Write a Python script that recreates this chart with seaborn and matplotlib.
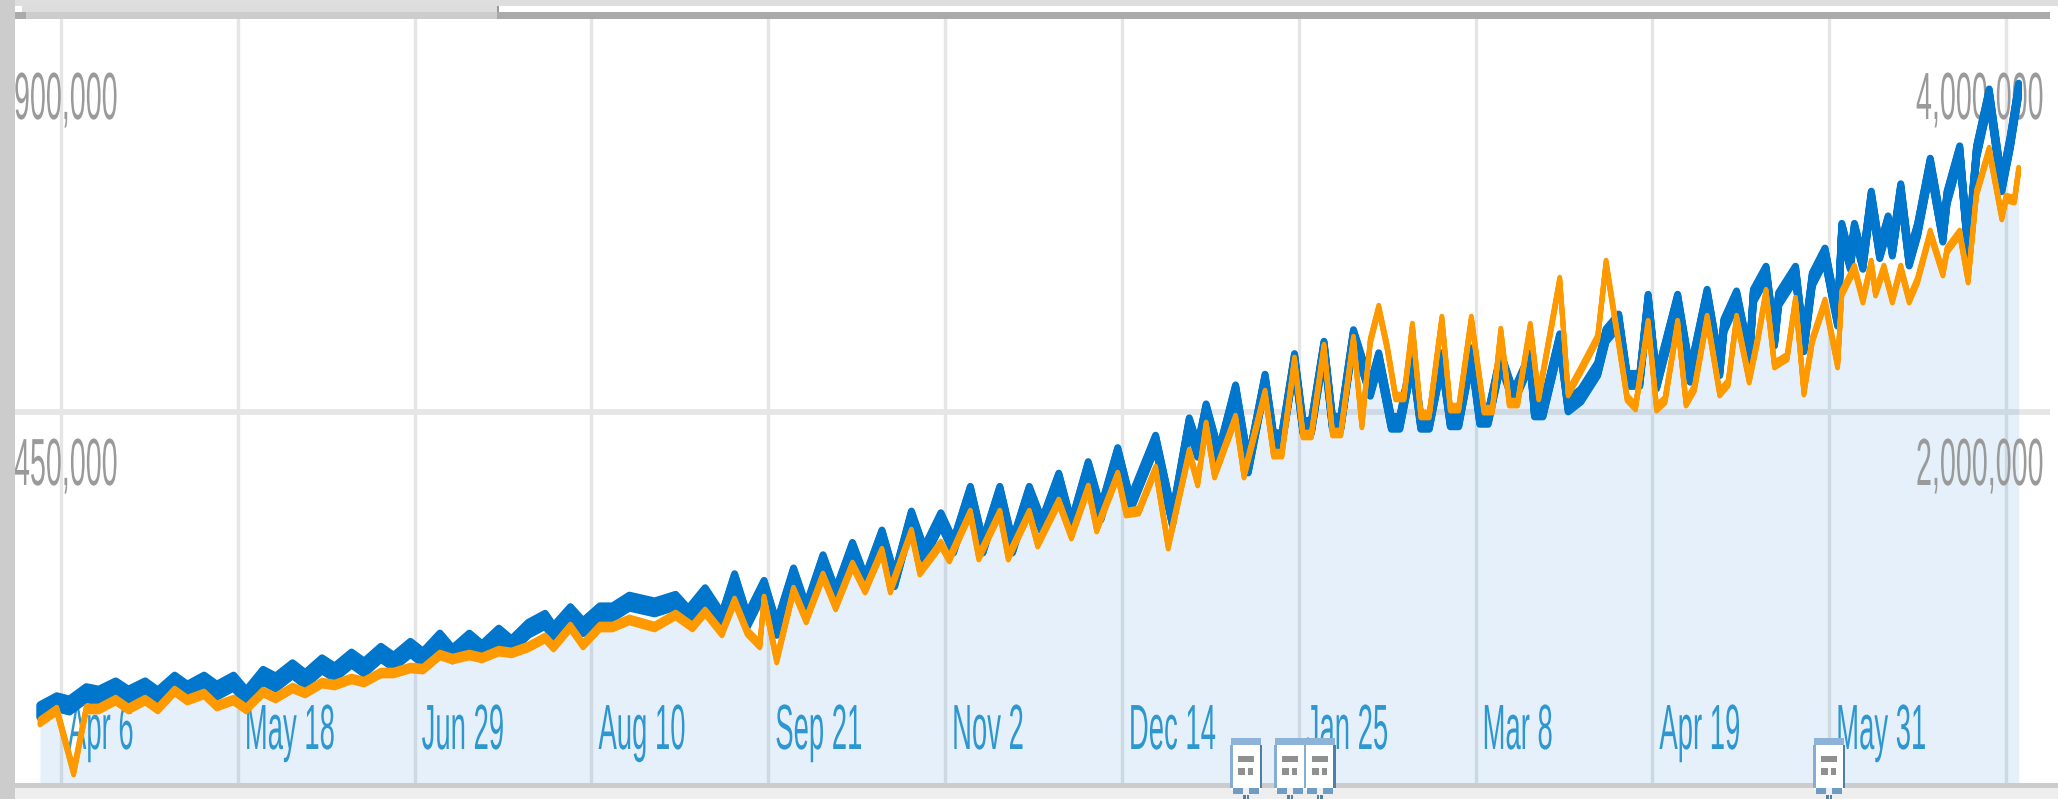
import numpy as np
import pandas as pd
import seaborn as sns
import matplotlib
matplotlib.use("Agg")
import matplotlib.pyplot as plt
from matplotlib.patches import Rectangle
from matplotlib.patheffects import AbstractPathEffect
from matplotlib.transforms import IdentityTransform, Affine2D, Bbox

# ---------- data (days counted from 2014-04-06, values in thousands) ----------
start_date = "2014-04-06"
blue_days = [-5,-1,2,6,9,13,16,20,23,27,30,34,37,41,44,48,51,55,58,62,65,69,72,76,79,83,86,90,93,97,100,104,107,111,
    115,117,121,124,128,131,135,141,146,149,153,157,160,163,167,170,174,177,181,184,188,191,195,198,202,205,209,212,
    216,219,223,226,230,233,237,240,244,247,251,254,260,264,268,270,272,275,279,282,286,
    288,290,293,295,297,300,302,304,307,311,313,316,318,321,323,325,328,330,332,335,337,339,342,345,349,350,352,
    356,358,361,365,367,370,372,375,377,379,384,387,391,394,395,398,
    401,402,405,407,408,412,414,416,419,422,423,425,426,428,430,432,434,435,437,439,441,444,447,448,451,453,455,458,
    461,463,465]
blue_k = [90,101,97,112,109,119,109,119,108,126,115,126,115,126,108,133,125,141,129,147,137,154,143,161,150,167,155,177,159,177,164,183,170,190,
    201,186,209,192,210,210,223,216,224,207,232,201,249,200,241,190,256,211,272,230,287,246,302,249,325,281,323,290,
    355,290,355,290,355,315,371,313,385,330,402,341,417,323,438,406,455,399,478,387,491,
    420,420,516,435,435,531,440,440,545,480,517,440,440,517,440,440,517,443,443,523,446,446,517,471,517,455,455,
    540,461,473,505,546,564,492,492,588,489,588,497,594,505,558,592,
    517,594,622,541,590,622,534,614,644,565,674,634,674,634,713,647,683,650,722,638,674,753,667,713,768,650,768,837,
    728,780,844]
orange_days = [-5,-1,3,6,9,13,16,20,23,27,30,34,37,41,44,48,51,55,58,62,65,69,72,76,79,83,86,90,93,97,100,104,107,111,
    115,117,121,124,128,131,135,141,146,150,153,157,160,163,166,167,170,174,177,181,184,188,191,195,197,202,204,209,211,
    216,218,223,225,230,232,237,240,244,246,251,253,256,260,263,268,270,272,274,279,281,286,
    288,290,293,295,297,300,302,304,307,309,311,313,315,317,319,321,323,325,328,330,332,335,338,340,342,344,346,349,351,
    356,358,361,365,367,370,372,374,377,379,381,384,386,388,
    391,394,396,398,401,403,405,407,410,412,414,416,419,422,423,426,428,430,431,433,435,437,439,441,444,447,448,451,
    453,455,458,461,462,464,465]
orange_k = [329,393,59,399,399,447,399,447,399,496,447,480,415,447,399,490,458,512,485,539,528,561,544,593,593,620,614,690,668,690,674,711,701,733,
    782,733,841,744,841,841,879,841,906,841,922,809,981,814,744,992,663,1040,879,1116,949,1175,1040,1250,1040,1353,1137,1288,1207,
    1455,1218,1455,1218,1455,1288,1515,1331,1590,1369,1660,1455,1466,1692,1277,1784,1617,1930,1660,1967,1660,2102,
    1773,1773,2280,1876,1876,2350,1887,1887,2393,1930,2382,2560,2350,2081,2081,2463,1984,1984,2501,2021,2021,2501,2010,2010,2436,2048,2048,2463,2081,
    2711,2102,2226,2399,2803,2372,2075,2027,2479,2021,2064,2479,2048,2129,
    2506,2102,2156,2506,2172,2388,2646,2253,2296,2603,2107,2388,2593,2253,2641,2776,2603,2803,2641,2776,2603,2776,2603,2711,2965,2749,2873,2965,
    2711,3180,3412,3051,3153,3142,3304]
grid_dates = ["2014-04-06","2014-05-18","2014-06-29","2014-08-10","2014-09-21","2014-11-02","2014-12-14",
              "2015-01-25","2015-03-08","2015-04-19","2015-05-31","2015-07-12"]
x_labels = ["Apr 6","May 18","Jun 29","Aug 10","Sep 21","Nov 2","Dec 14","Jan 25","Mar 8","Apr 19","May 31",""]
left_ticks = [450000, 900000]
left_labels = ["450,000", "900,000"]
right_ticks = [2000000, 4000000]
right_labels = ["2,000,000", "4,000,000"]
annotation_days = [281.5, 292, 299, 420]

# ---------- layout constants ----------
W, H = 2058, 799
AX_L, AX_R, AX_T, AX_B = 15, 2050, 19, 783
PX_DAY0, PX_PER_DAY = 61.0, 4.21
BLUE, ORANGE = "#0076cc", "#ff9900"
SQUEEZE = 0.43

sns.set_theme(style="white")
plt.rcParams["font.family"] = ["Liberation Sans", "DejaVu Sans"]


class Squeeze(AbstractPathEffect):
    """Condense glyphs horizontally around the text origin (the reference is stretched)."""
    def __init__(self, sx):
        super().__init__()
        self.sx = sx

    def draw_path(self, renderer, gc, tpath, affine, rgbFace=None):
        m = affine.get_matrix().copy()
        m[0, 0] *= self.sx
        m[0, 1] *= self.sx
        renderer.draw_path(gc, tpath, Affine2D(m), rgbFace)


class TallStroke(AbstractPathEffect):
    """Make a stroke taller than wide: the reference image is stretched vertically."""
    def __init__(self, up_px, down_px):
        super().__init__()
        self.up_px, self.down_px = up_px, down_px

    def draw_path(self, renderer, gc, tpath, affine, rgbFace=None):
        for dy in np.arange(-self.down_px, self.up_px + 0.01, 1.0):
            renderer.draw_path(gc, tpath, affine + Affine2D().translate(0, dy), rgbFace)


def condensed(t):
    """Apply the squeeze and report the extent that is really painted."""
    t.set_path_effects([Squeeze(SQUEEZE)])
    orig = t.get_window_extent

    def extent(renderer=None, dpi=None):
        bb = orig(renderer, dpi)
        return Bbox.from_extents(bb.x0, bb.y0, bb.x0 + bb.width * SQUEEZE, bb.y1)

    t.get_window_extent = extent
    return t


fig = plt.figure(figsize=(W / 100, H / 100), dpi=100, facecolor="white")
ax = fig.add_axes([AX_L / W, 1 - AX_B / H, (AX_R - AX_L) / W, (AX_B - AX_T) / H])
ax2 = ax.twinx()

base = pd.Timestamp(start_date)
blue_df = pd.DataFrame({"date": base + pd.to_timedelta(blue_days, unit="D"), "v": np.array(blue_k) * 1000})
orange_df = pd.DataFrame({"date": base + pd.to_timedelta(orange_days, unit="D"), "v": np.array(orange_k) * 1000})

sns.lineplot(data=blue_df, x="date", y="v", ax=ax, color=BLUE, linewidth=5.0, estimator=None, zorder=3, legend=False,
             path_effects=[TallStroke(4, 9)])
sns.lineplot(data=orange_df, x="date", y="v", ax=ax2, color=ORANGE, linewidth=3.4, estimator=None, zorder=3, legend=False,
             path_effects=[TallStroke(3, 3)])

# limits
h_total = AX_B - AX_T
left_top = 450000 / 371 * h_total
right_top = 2000000 / 371 * h_total
ax.set_ylim(0, left_top)
ax2.set_ylim(0, right_top)
d0 = (AX_L - PX_DAY0) / PX_PER_DAY
d1 = (AX_R - PX_DAY0) / PX_PER_DAY
ax.set_xlim(base + pd.Timedelta(days=d0), base + pd.Timedelta(days=d1))

# area: under the lower of the two series (same pixel scale)
grid_days = np.arange(blue_days[0], blue_days[-1] + 1)
lower = np.minimum(np.interp(grid_days, blue_days, blue_k) * 1000,
                   np.interp(grid_days, orange_days, orange_k) * 1000 * (left_top / right_top))
ax.fill_between(base + pd.to_timedelta(grid_days, unit="D"), 0, lower, color=(0, 113 / 255, 206 / 255, 0.1),
                linewidth=0, zorder=1)

# grid
gd = pd.to_datetime(grid_dates)
ax.set_xticks(gd)
ax.set_yticks([left_ticks[0]])
ax.grid(False)
ax.set_axisbelow(True)
for d in gd:
    ax.axvline(d, color="#e5e5e5", linewidth=2.4, zorder=0.5)
ax.axhline(left_ticks[0], color="#e6e6e6", linewidth=4.2, zorder=0.5)

# axis furniture off; labels as inner text
for a in (ax, ax2):
    a.set_xlabel("")
    a.set_ylabel("")
    a.tick_params(length=0, labelbottom=False, labelleft=False, labelright=False)
    for s in a.spines.values():
        s.set_visible(False)

font = "Liberation Sans"
for d, lab in zip(gd, x_labels):
    if lab:
        condensed(ax.annotate(lab, xy=(d, 0), xycoords="data", xytext=(7 * 0.72, (AX_B - 749) * 0.72),
                              textcoords="offset points", ha="left", va="baseline", fontsize=46, color="#2f97cf",
                              family=font, zorder=1.5, annotation_clip=False))
for val, lab, y0 in zip(left_ticks, left_labels, [485, 119]):
    condensed(ax.text((14 - AX_L) / (AX_R - AX_L), 1 - (y0 - AX_T) / h_total, lab, transform=ax.transAxes, ha="left",
                      va="baseline", fontsize=48, color="#9a9a9a", family=font, zorder=1.5, clip_on=False))
for val, lab, y0 in zip(right_ticks, right_labels, [485, 119]):
    condensed(ax.text((1916 - AX_L) / (AX_R - AX_L), 1 - (y0 - AX_T) / h_total, lab, transform=ax.transAxes, ha="left",
                      va="baseline", fontsize=48, color="#9a9a9a", family=font, zorder=1.5, clip_on=False))


# ---------- page chrome, in image pixels ----------
def box(x0, y0, x1, y1, color, z=10):
    r = Rectangle((x0, H - y1), x1 - x0, y1 - y0, facecolor=color, edgecolor="none",
                  transform=IdentityTransform(), zorder=z)
    fig.add_artist(r)


box(0, 0, W, 6, "#dedede")
box(15, 6, 22, 12, "#ffffff")
box(22, 6, 497, 12, "#dddddd")
box(15, 12, 26, 19, "#aaaaaa")
box(26, 12, 497, 19, "#cccccc")
box(497, 6, 499, 12, "#999999")
box(497, 12, 2050, 19, "#aaaaaa")
box(2050, 6, W, 19, "#ffffff")
box(15, 783, W, 788, "#cccccc", z=4)
box(15, 788, W, H, "#eeeeee", z=4)
box(0, 0, 15, H, "#cccccc", z=11)

# annotation flags
for d in annotation_days:
    c = PX_DAY0 + PX_PER_DAY * d
    l, r_ = c - 15, c + 15
    box(l, 745, r_, 790, "#ffffff", z=12)
    box(l, 738, r_, 745, "#8db4d8", z=12)
    box(l - 1, 745, l + 1.5, 788, "#86add2", z=12)
    box(r_ - 1.5, 745, r_ + 1, 788, "#4f7fa8", z=12)
    box(l + 2, 788, r_ - 2, 794, "#6f9cc5", z=12)
    box(c - 3, 788, c + 3, 794, "#f0f0f0", z=12)
    box(c - 3, 795, c - 0.5, 799, "#4f7fa8", z=12)
    box(c + 0.5, 795, c + 3, 799, "#4f7fa8", z=12)
    box(c - 8, 756, c + 8, 762, "#8f9090", z=13)
    box(c - 8, 768, c - 1, 775, "#8f9090", z=13)
    box(c + 2, 768, c + 7, 775, "#8f9090", z=13)

fig.savefig("out.png", dpi=100)
